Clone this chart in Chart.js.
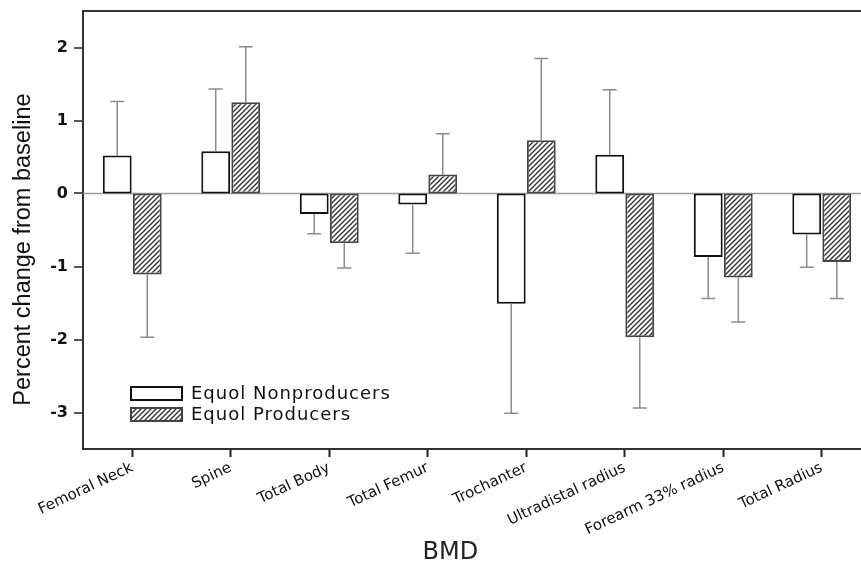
<!DOCTYPE html>
<html>
<head>
<meta charset="utf-8">
<script src="https://cdn.jsdelivr.net/npm/chart.js@4"></script>
<style>
  html, body { margin: 0; padding: 0; overflow: hidden; background: #fff; }
</style>
</head>
<body>
<canvas id="myChart" width="880" height="565"></canvas>
<script>
const sites = ["Femoral Neck", "Spine", "Total Body", "Total Femur", "Trochanter",
  "Ultradistal radius", "Forearm 33% radius", "Total Radius"];
const seriesNames = ["Equol Nonproducers", "Equol Producers"];
const nonproducers = [0.52, 0.58, -0.28, -0.15, -1.51, 0.53, -0.87, -0.56];
const producers = [-1.11, 1.25, -0.68, 0.26, 0.73, -1.97, -1.15, -0.94];
// where each error whisker ends (bar value +/- one error)
const nonproducersErrEnd = [1.26, 1.43, -0.55, -0.82, -3.01, 1.42, -1.44, -1.01];
const producersErrEnd = [-1.97, 2.01, -1.02, 0.82, 1.85, -2.94, -1.76, -1.44];
const yTicks = [-3, -2, -1, 0, 1, 2];

const ctx = document.getElementById("myChart").getContext("2d");

// diagonal hatch for the producers bars
function makeHatch() {
  const c = document.createElement("canvas");
  c.width = 5; c.height = 5;
  const g = c.getContext("2d");
  g.fillStyle = "#fff";
  g.fillRect(0, 0, 5, 5);
  g.strokeStyle = "#333";
  g.lineWidth = 1.4;
  g.beginPath();
  g.moveTo(-1, 6); g.lineTo(6, -1);
  g.moveTo(-1, 1); g.lineTo(1, -1);
  g.moveTo(4, 6); g.lineTo(6, 4);
  g.stroke();
  return ctx.createPattern(c, "repeat");
}
const hatch = makeHatch();

const errEnds = [nonproducersErrEnd, producersErrEnd];

// gray zero line under the bars
const zeroLine = {
  id: "zeroLine",
  beforeDatasetsDraw(chart) {
    const a = chart.chartArea;
    const y0 = chart.scales.y.getPixelForValue(0);
    const c = chart.ctx;
    c.save();
    c.strokeStyle = "#9a9a9a";
    c.lineWidth = 1.5;
    c.beginPath();
    c.moveTo(a.left, y0);
    c.lineTo(a.right, y0);
    c.stroke();
    c.restore();
  },
};

const errorBars = {
  id: "errorBars",
  afterDatasetsDraw(chart) {
    const y = chart.scales.y;
    const c = chart.ctx;
    c.save();
    c.strokeStyle = "#8c8c8c";
    c.lineWidth = 1.5;
    chart.data.datasets.forEach((ds, i) => {
      const meta = chart.getDatasetMeta(i);
      meta.data.forEach((bar, j) => {
        const yEnd = y.getPixelForValue(errEnds[i][j]);
        c.beginPath();
        c.moveTo(bar.x, bar.y);
        c.lineTo(bar.x, yEnd);
        c.moveTo(bar.x - 7, yEnd);
        c.lineTo(bar.x + 7, yEnd);
        c.stroke();
      });
    });
    c.restore();
  },
};

const frameAndLegend = {
  id: "frameAndLegend",
  afterDraw(chart) {
    const a = chart.chartArea;
    const c = chart.ctx;
    c.save();
    // top frame line
    c.strokeStyle = "#333";
    c.lineWidth = 2;
    c.beginPath();
    c.moveTo(a.left, a.top);
    c.lineTo(a.right, a.top);
    c.stroke();

    // legend inside the plot, lower left
    const lx = a.left + 48, ly = a.bottom - 62;
    chart.data.datasets.forEach((ds, i) => {
      const by = ly + i * 21;
      c.fillStyle = ds.backgroundColor;
      c.fillRect(lx, by, 51, 13);
      c.strokeStyle = ds.borderColor;
      c.lineWidth = 2;
      c.strokeRect(lx, by, 51, 13);
      c.fillStyle = "#111";
      c.font = "18px 'DejaVu Sans'";
      c.letterSpacing = "1px";
      c.textBaseline = "middle";
      c.fillText(ds.label, lx + 60, by + 7);
    });
    c.restore();
  },
};

new Chart(ctx, {
  type: "bar",
  data: {
    labels: sites,
    datasets: [
      {
        label: seriesNames[0],
        data: nonproducers,
        backgroundColor: "#fff",
        borderColor: "#111",
        borderWidth: 2,
        borderSkipped: false,
        barPercentage: 0.96,
        categoryPercentage: 0.61,
      },
      {
        label: seriesNames[1],
        data: producers,
        backgroundColor: hatch,
        borderColor: "#444",
        borderWidth: 2,
        borderSkipped: false,
        barPercentage: 0.96,
        categoryPercentage: 0.61,
      },
    ],
  },
  options: {
    responsive: false,
    animation: false,
    layout: { padding: { top: 11, right: 9, bottom: 0, left: 0 } },
    plugins: {
      legend: { display: false },
      tooltip: { enabled: false },
    },
    scales: {
      x: {
        offset: true,
        grid: { offset: false, drawOnChartArea: false, tickLength: 8, tickColor: "#222", tickWidth: 2 },
        border: { display: true, color: "#333", width: 2 },
        ticks: {
          autoSkip: false,
          maxRotation: 25,
          minRotation: 25,
          padding: 2,
          color: "#111",
          font: { family: "DejaVu Sans", size: 15 },
        },
        title: {
          display: true,
          text: "BMD       ",
          color: "#222",
          font: { family: "DejaVu Sans", size: 24, lineHeight: 1 },
          padding: { top: 0, bottom: 0 },
        },
        afterFit(scale) { scale.height = 116; },
      },
      y: {
        min: -3.5,
        max: 2.5,
        afterBuildTicks(scale) { scale.ticks = yTicks.map(v => ({ value: v })); },
        grid: {
          drawOnChartArea: false,
          lineWidth: 0,
          tickColor: "#222",
          tickLength: 9,
          tickWidth: 1.5,
        },
        border: { display: true, color: "#333", width: 2 },
        ticks: {
          padding: 6,
          color: "#111",
          font: { family: "DejaVu Sans", size: 16, weight: "bold" },
        },
        title: {
          display: true,
          text: "Percent change from baseline      ",
          color: "#111",
          font: { family: "Liberation Sans", size: 23.5, lineHeight: 1.2 },
          padding: { top: 9, bottom: 0 },
        },
        afterFit(scale) {
          scale.width = 83;
          scale.paddingTop = 0;
          scale.paddingBottom = 0;
        },
      },
    },
  },
  plugins: [zeroLine, errorBars, frameAndLegend],
});
</script>
</body>
</html>
